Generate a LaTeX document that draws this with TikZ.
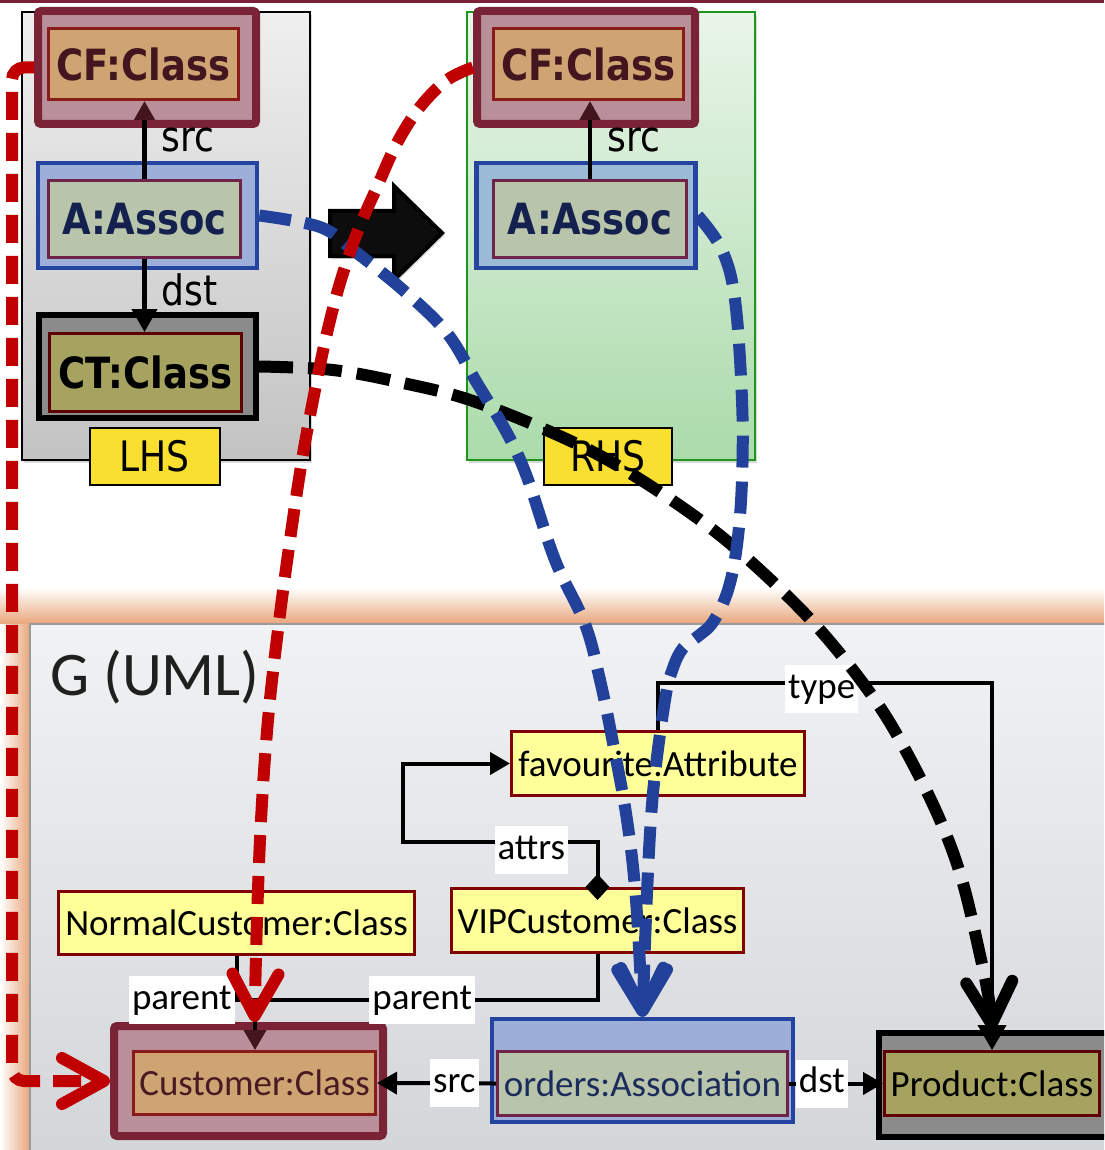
\documentclass[tikz,border=0pt]{standalone}
\usepackage{fontspec}
\setmainfont{Carlito}
\newfontfamily\tah[FakeStretch=0.86]{DejaVu Sans}
\usetikzlibrary{arrows.meta,shadows}
\definecolor{topbar}{HTML}{7B2038}
\definecolor{cfOF}{HTML}{B98F99}
\definecolor{cfOD}{HTML}{7A2337}
\definecolor{cfIF}{HTML}{CFA473}
\definecolor{cfID}{HTML}{8B1A1A}
\definecolor{cfT}{HTML}{43151F}
\definecolor{asOF}{HTML}{9DAED8}
\definecolor{asOFr}{HTML}{9BBAD6}
\definecolor{asOD}{HTML}{2444A0}
\definecolor{asIF}{HTML}{B8C5AB}
\definecolor{asID}{HTML}{6E2448}
\definecolor{asT}{HTML}{14214F}
\definecolor{ctOF}{HTML}{8B8B8B}
\definecolor{ctIF}{HTML}{A6A361}
\definecolor{ctID}{HTML}{5E0000}
\definecolor{lblY}{HTML}{F9DF2F}
\definecolor{ltY}{HTML}{FFFF99}
\definecolor{ltYD}{HTML}{800000}
\definecolor{redD}{HTML}{C00000}
\definecolor{blueD}{HTML}{22419A}
\definecolor{orng}{HTML}{E8A57A}
\definecolor{gTop}{HTML}{F1F2F4}
\definecolor{gBot}{HTML}{D3D6D9}
\definecolor{gLine}{HTML}{9A9A9A}
\definecolor{lhsTop}{HTML}{EFEFEF}
\definecolor{lhsBot}{HTML}{C3C3C3}
\definecolor{rhsTop}{HTML}{E9F5E9}
\definecolor{rhsBot}{HTML}{ABDBAB}
\definecolor{rhsD}{HTML}{1E961E}
\definecolor{arrBlk}{HTML}{0D0D0D}
\definecolor{ordT}{HTML}{1C2A5C}
\definecolor{cusT}{HTML}{4A1A24}
\begin{document}
\begin{tikzpicture}[x=1pt,y=-1pt,
  shad/.style={drop shadow={shadow xshift=2pt,shadow yshift=-3pt,opacity=0.3}},
  bigfont/.style={font=\tah\bfseries\fontsize{43}{46}\selectfont},
  topfont/.style={font=\tah\fontsize{42}{46}\selectfont},
  gfont/.style={font=\fontsize{37}{40}\selectfont},
  box/.style={rectangle, inner sep=0pt},
  cfout/.style={box, draw=cfOD, fill=cfOF, line width=8pt, rounded corners=3pt, shad},
  cfin/.style={box, draw=cfID, fill=cfIF, line width=3pt, text=cfT},
  asout/.style={box, draw=asOD, fill=asOF, line width=4.5pt},
  asin/.style={box, draw=asID, fill=asIF, line width=3pt, text=asT},
  ctout/.style={box, draw=black, fill=ctOF, line width=6pt},
  ctin/.style={box, draw=ctID, fill=ctIF, line width=3pt, text=black},
  ybox/.style={box, draw=ltYD, fill=ltY, line width=3pt, gfont},
  tagbox/.style={box, draw=black, fill=lblY, line width=2pt, topfont},
  lbl/.style={fill=white, inner xsep=3pt, inner ysep=0pt, minimum height=48pt, text height=27pt, text depth=9pt, gfont},
  toplbl/.style={inner sep=2pt, topfont},
  conn/.style={line width=4pt, draw=black},
  tri/.style={-{Triangle[length=20pt,width=22pt]}},
  mapline/.style={line width=12pt, line cap=butt, -{Straight Barb[length=42pt,width=46pt,line width=12pt,round]}},
]
\useasboundingbox (0,0) rectangle (1104,1150);
\clip (0,0) rectangle (1104,1150);
% background
\fill[white] (0,0) rectangle (1104,1150);
\fill[topbar] (0,0) rectangle (1104,3.5);
\shade[top color=white, bottom color=orng] (0,588) rectangle (1104,624);
\shade[left color=white, right color=orng] (0,624) rectangle (30,1150);
\shade[top color=gTop, bottom color=gBot] (30,624) rectangle (1110,1155);
\draw[gLine, line width=2.5pt] (30,1155) -- (30,624) -- (1110,624);
\node[anchor=base west, inner sep=0pt, font=\fontsize{62}{64}\selectfont, text=black!88] (glabel) at (50,695) {G (UML)};

% rule frames
\node[box, draw=black, line width=1.5pt, top color=lhsTop, bottom color=lhsBot, minimum width=288pt, minimum height=448pt, shad] (lhs) at (166,236) {};
\node[box, draw=rhsD, line width=1.5pt, top color=rhsTop, bottom color=rhsBot, minimum width=288pt, minimum height=448pt, shad] (rhs) at (611,236) {};
\node[tagbox, minimum width=130pt, minimum height=57pt] (lhsTag) at (154.5,456.5) {LHS};
\node[tagbox, minimum width=128pt, minimum height=57pt] (rhsTag) at (608,456.5) {RHS};

% big arrow
\filldraw[fill=arrBlk, draw=black, line width=4pt, line join=miter, shad]
  (330,211) -- (394,211) -- (394,186) -- (442,233) -- (394,280) -- (394,256) -- (330,256) -- cycle;

% LHS nodes
\node[cfout, minimum width=218pt, minimum height=113pt] (cfLo) at (147,67.5) {};
\node[cfin, minimum width=190pt, minimum height=71pt, bigfont] (cfL) at (143.5,64) {CF:Class};
\node[asout, minimum width=219pt, minimum height=105pt] (aLo) at (147.5,215.5) {};
\node[asin, minimum width=192pt, minimum height=77pt, bigfont] (aL) at (144.5,219) {A:Assoc};
\node[ctout, minimum width=217pt, minimum height=103pt] (ctLo) at (147.5,366.5) {};
\node[ctin, minimum width=192pt, minimum height=78pt, bigfont] (ctL) at (145.5,372.5) {CT:Class};

% RHS nodes
\node[cfout, minimum width=218pt, minimum height=113pt] (cfRo) at (586,67.5) {};
\node[cfin, minimum width=190pt, minimum height=71pt, bigfont] (cfR) at (588.5,64) {CF:Class};
\node[asout, fill=asOFr, minimum width=219pt, minimum height=105pt] (aRo) at (586,215.5) {};
\node[asin, minimum width=193pt, minimum height=77pt, bigfont] (aR) at (590,219) {A:Assoc};

% rule connectors
\draw[conn, line width=4.5pt, -{Triangle[length=19pt,width=20pt,color=cfT]}]
  (aL.north) -- node[right=13pt, toplbl]{src} (aL.north |- cfL.south);
\draw[conn, line width=4.5pt, -{Triangle[length=23pt,width=25pt]}]
  (aL.south) -- node[right=13pt, yshift=6pt, toplbl]{dst} (aL.south |- ctL.north);
\draw[conn, line width=4.5pt, -{Triangle[length=19pt,width=20pt,color=cfT]}]
  (aR.north) -- node[right=13pt, toplbl]{src} (aR.north |- cfR.south);

% G nodes
\node[ybox, minimum width=293pt, minimum height=64pt] (fav) at (658,763.5) {favourite:Attribute};
\node[ybox, minimum width=356pt, minimum height=63pt] (norm) at (236.5,923) {NormalCustomer:Class};
\node[ybox, minimum width=292pt, minimum height=64pt] (vip) at (597.5,920.5) {VIPCustomer:Class};
\node[cfout, minimum width=269pt, minimum height=110pt] (cuso) at (248.5,1081) {};
\node[cfin, gfont, text=cusT, minimum width=242pt, minimum height=63pt] (cus) at (254.5,1083) {Customer:Class};
\node[asout, minimum width=301pt, minimum height=103pt] (ordo) at (642.5,1070.5) {};
\node[asin, gfont, text=ordT, minimum width=290pt, minimum height=64pt] (ord) at (642.5,1083.5) {orders:Association};
\node[ctout, minimum width=231pt, minimum height=104pt] (proo) at (994.5,1085) {};
\node[ctin, gfont, minimum width=215pt, minimum height=64pt] (pro) at (992,1083.5) {Product:Class};

% G connectors
\coordinate (pj) at (255,1000);
\coordinate (at2) at (403,842);
\coordinate (ty1) at (658,683);
\coordinate (ty2) at (992,683);
\draw[conn] (norm.south) |- node[lbl, pos=0.5, anchor=east]{parent} (pj);
\draw[conn, -{Triangle[length=20pt,width=22pt,color=cfT]}]
  (vip.south) |- node[lbl, pos=0.756]{parent} (pj) -- (pj |- cus.north);
\draw[conn, {Diamond[length=26pt,width=24pt]}-{Triangle[length=20pt,width=22pt]}]
  ([yshift=-13pt]vip.north) -- (vip.north |- at2) -- node[lbl, pos=0.34, yshift=-8pt]{attrs} (at2) |- (fav.west);
\draw[conn, -{Triangle[length=25pt,width=28pt]}]
  (fav.north) -- (ty1) -- node[lbl, pos=0.49, yshift=-6pt]{type} (ty2) -- (pro.north);
\draw[conn, tri] (ord.west) -- node[lbl, pos=0.35]{src} (cus.east);
\draw[conn, tri] (ord.east) -- node[lbl, pos=0.35]{dst} (pro.west);

% mapping lines
\coordinate (kEnd) at (proo.north -| pro.north);
\coordinate (bEnd) at (ordo.north);
\coordinate (rEnd) at (cuso.north -| cus.north);
\draw[mapline, black, dash pattern=on 34pt off 15pt] plot[smooth, tension=0.6] coordinates
  {(ctLo.east) (333,370) (403,383) (470,400) (553,433) (620,467) (700,520) (760,570) (820,630) (873,697) (907,753) (940,820) (962,880) (980,955) (989,1000) (kEnd)};
\draw[mapline, blueD, dash pattern=on 32pt off 14pt] plot[smooth, tension=0.6] coordinates
  {(aLo.east) (320,227) (353,250) (403,290) (447,333) (477,383) (507,433) (527,477) (555,560) (585,624) (600,680) (613,743) (627,820) (636,900) (bEnd)};
\draw[mapline, blueD, dash pattern=on 32pt off 14pt] plot[smooth, tension=0.6] coordinates
  {(aRo.east) (722,250) (735,300) (742,400) (742,480) (737,545) (728,590) (713,622) (697,637) (683,648) (673,668) (665,700) (653,793) (647,893) (bEnd)};
\draw[mapline, redD, dash pattern=on 28pt off 13pt, rounded corners=12pt]
  (cfLo.west) -- (12,67.5) -- (12,1081) -- (cuso.west);
\draw[mapline, redD, dash pattern=on 28pt off 13pt] plot[smooth, tension=0.6] coordinates
  {(cfRo.west) (447,80) (420,107) (397,143) (377,187) (357,233) (340,283) (327,333) (315,390) (302,460) (290,540) (278,630) (268,720) (261,820) (257,920) (rEnd)};
\end{tikzpicture}
\end{document}
